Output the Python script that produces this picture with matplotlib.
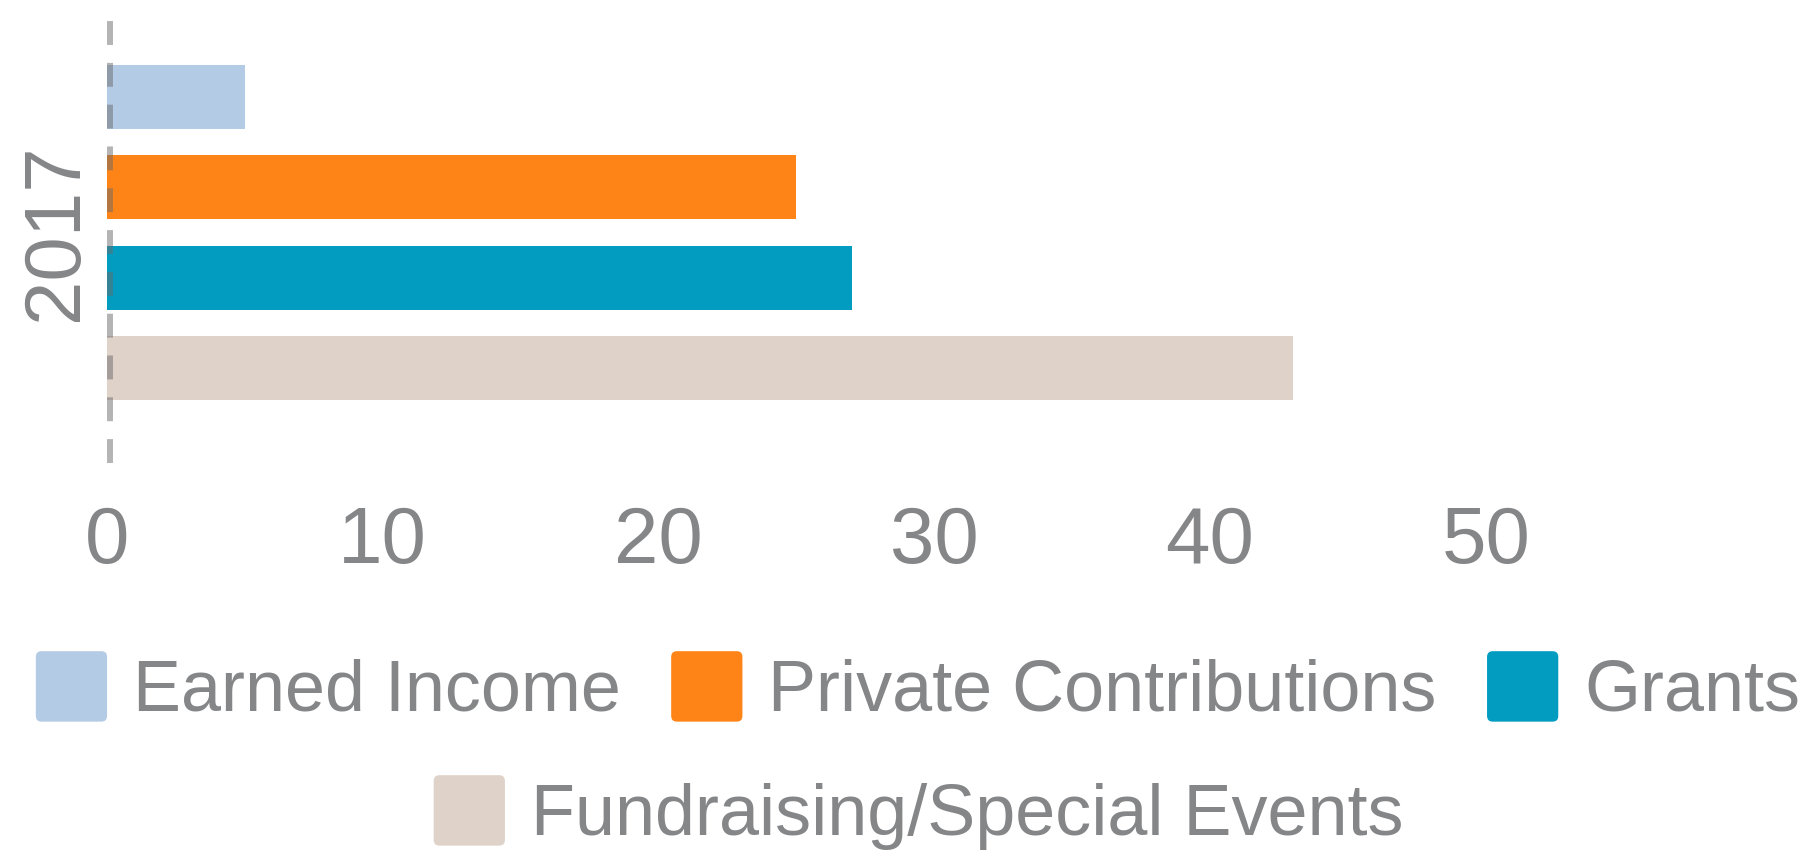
import matplotlib
matplotlib.use("Agg")
import matplotlib.pyplot as plt
import matplotlib.transforms as mtransforms
from matplotlib.patches import Patch, FancyBboxPatch
from matplotlib.legend_handler import HandlerPatch

# ---- data ----
categories = ["2017"]
series_names = ["Earned Income", "Private Contributions", "Grants",
                "Fundraising/Special Events"]
series_values = [[5], [25], [27], [43]]
series_colors = ["#b4cbe6", "#ff8418", "#029cc1", "#dfd2c9"]
x_ticks = [0, 10, 20, 30, 40, 50]

TEXT = "#858688"
plt.rcParams['font.family'] = ['Liberation Sans', 'DejaVu Sans']

fig = plt.figure(figsize=(18.08, 8.55), dpi=100)
ax = fig.add_axes([107 / 1808, 1 - 463 / 855, 1654.5 / 1808, 444 / 855])

n = len(series_names)
bar_h = 0.709
for i, (name, vals, col) in enumerate(zip(series_names, series_values, series_colors)):
    ys = [c + (i - (n - 1) / 2) for c in range(len(categories))]
    ax.barh(ys, vals, height=bar_h, color=col, label=name, zorder=2)

# dashed zero line, drawn just inside the plot area
zl = ax.axvline(0, color="#6a6a6a", alpha=0.5, lw=4.3, linestyle=(0, (4.0, 3.0)),
                zorder=3, clip_on=False)
shift = mtransforms.ScaledTranslation(3 / 100, 0, fig.dpi_scale_trans)
zl.set_transform(zl.get_transform() + shift)

ax.set_xlim(0, 60)
ax.set_ylim(2.552, -2.364)
ax.set_xticks(x_ticks)
ax.set_xticklabels([str(t) for t in x_ticks])
ax.set_yticks(range(len(categories)))
ax.set_yticklabels(categories, rotation=90, va="center")
ax.tick_params(axis="x", length=0, pad=30.5, labelsize=57.5, labelcolor=TEXT)
ax.tick_params(axis="y", length=0, pad=9, labelsize=57.5, labelcolor=TEXT)
for s in ax.spines.values():
    s.set_visible(False)


class RoundHandler(HandlerPatch):
    def create_artists(self, legend, orig_handle, xdescent, ydescent,
                       width, height, fontsize, trans):
        p = FancyBboxPatch((-xdescent, -ydescent), width, height,
                           boxstyle="round,pad=0,rounding_size=%f" % (0.08 * width),
                           facecolor=orig_handle.get_facecolor(),
                           edgecolor="none", transform=trans)
        return [p]


handles = [Patch(facecolor=c, label=l) for c, l in zip(series_colors, series_names)]
common = dict(frameon=False, fontsize=51.8, labelcolor=TEXT, handlelength=0.99,
              handleheight=1.13, handletextpad=0.36, borderpad=0, borderaxespad=0,
              handler_map={Patch: RoundHandler()}, loc="center")
leg1 = fig.legend(handles[:3], series_names[:3], ncol=3, columnspacing=0.7,
                  bbox_to_anchor=(918 / 1808, 1 - 688.5 / 855), **common)
leg2 = fig.legend(handles[3:], series_names[3:], ncol=1,
                  bbox_to_anchor=(918.5 / 1808, 1 - 812.5 / 855), **common)

fig.savefig("out.png", dpi=100, facecolor="white")
